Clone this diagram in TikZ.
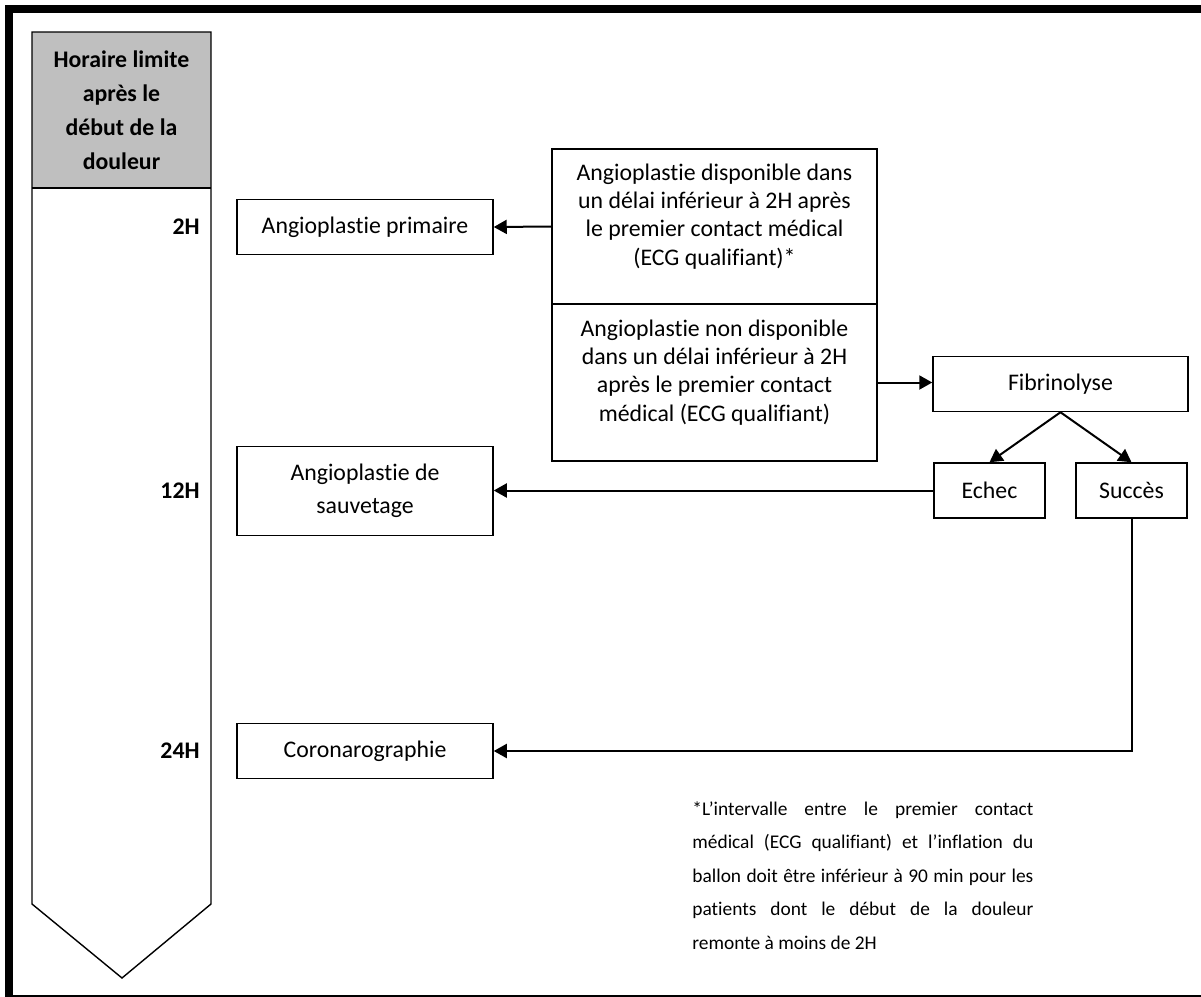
\documentclass[tikz,border=0pt]{standalone}
\usepackage{fontspec}
\setmainfont{Carlito}[Ligatures={NoCommon}]
\usepackage{xcolor}
\usepackage{tikz}
\usetikzlibrary{arrows.meta,positioning}
\hyphenpenalty=10000
\exhyphenpenalty=10000

\begin{document}
\begin{tikzpicture}[x=0.5pt, y=-0.5pt,
    box/.style={draw, rectangle, line width=0.75pt, align=center, inner sep=2pt, font=\fontsize{11.9pt}{14.15pt}\selectfont},
    hour/.style={anchor=east, inner sep=0pt, font=\fontsize{11.9pt}{14.15pt}\selectfont\bfseries},
    link/.style={line width=1pt, -{Triangle[length=6.5pt, width=7pt]}}]
    \useasboundingbox (0,0) rectangle (1201,997);

    % Frame
    \draw[line width=4pt] (9,997) -- (9,9) -- (1201,9);
    \draw[line width=0.75pt] (9,996) -- (1201,996);

    % Time column
    \fill[black!25] (32,32) rectangle (211,188);
    \draw[line width=0.7pt] (32,188) -- (32,32) -- (211,32) -- (211,904) -- (122,978) -- (32,904) -- cycle;
    \draw[line width=0.7pt] (32,188) -- (211,188);
    \node [align=center, font=\fontsize{11.9pt}{17pt}\selectfont\bfseries] (header) at (121.5,110) {Horaire limite\\après le\\début de la\\douleur};
    \node [hour] (h2) at (200,227) {2H};
    \node [hour] (h12) at (200,491) {12H};
    \node [hour] (h24) at (200,751) {24H};

    % Nodes
    \node [box, minimum width=128pt, minimum height=27.5pt] (prim) at (365,227) {Angioplastie primaire};
    \node [box, minimum width=162.5pt, minimum height=77.5pt, text depth=12pt] (dispo) at (714.5,226.5) {Angioplastie disponible dans\\un délai inférieur à 2H après\\le premier contact médical\\(ECG qualifiant)*};
    \node [box, minimum width=162.5pt, minimum height=78.5pt, text depth=12pt, below=-0.75pt of dispo] (nondispo) {Angioplastie non disponible\\dans un délai inférieur à 2H\\après le premier contact\\médical (ECG qualifiant)};
    \node [box, minimum width=127.5pt, minimum height=27.5pt] (fib) at (1060.5,384) {Fibrinolyse};
    \node [box, minimum width=55.5pt, minimum height=27.5pt] (echec) at (989.5,490.5) {Echec};
    \node [box, minimum width=55.5pt, minimum height=27.5pt] (succes) at (1131.5,490.5) {Succès};
    \node [box, minimum width=128pt, minimum height=44.5pt, font=\fontsize{11.9pt}{16.5pt}\selectfont] (sauv) at (365,491) {Angioplastie de\\sauvetage};
    \node [box, minimum width=128pt, minimum height=27.5pt] (coro) at (365,751) {Coronarographie};

    % Arrows
    \draw [link] (dispo.west) -- (prim.east);
    \draw [link] (nondispo.east) -- (nondispo.east -| fib.west);
    \draw [link] (fib.south) -- (echec.north);
    \draw [link] (fib.south) -- (succes.north);
    \draw [link] (echec.west) -- (echec.west -| sauv.east);
    \draw [link] (succes.south) |- (coro.east);

    % Footnote
    \node [anchor=north west, text width=170.5pt, align=justify, inner sep=0pt, font=\fontsize{9.7pt}{16.75pt}\selectfont] (note) at (692,801) {*L’intervalle entre le premier contact\linebreak médical (ECG qualifiant) et l’inflation du\linebreak ballon doit être inférieur à 90 min pour les\linebreak patients dont le début de la douleur\linebreak remonte à moins de 2H};
\end{tikzpicture}
\end{document}
